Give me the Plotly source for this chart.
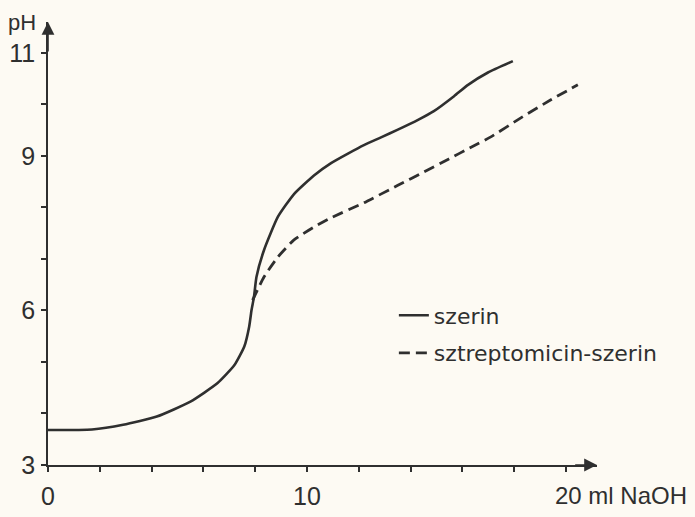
import plotly.graph_objects as go

# Data (ml NaOH, pH)
szerin_ml = [0, 1.7, 2.9, 4.2, 5.5, 6.55, 7.2, 7.58, 7.77, 7.86, 7.95, 8.05, 8.34, 8.88,
             9.5, 10.27, 10.93, 11.6, 12.2, 12.86, 13.51, 14.29, 14.9, 15.68, 16.22, 16.99, 17.95]
szerin_ph = [3.68, 3.69, 3.78, 3.94, 4.23, 4.59, 4.94, 5.30, 5.69, 6.01, 6.25, 6.65, 7.17, 7.82,
             8.26, 8.62, 8.86, 9.05, 9.21, 9.36, 9.51, 9.70, 9.87, 10.16, 10.38, 10.62, 10.84]

sztrep_ml = [7.9, 8.34, 8.88, 9.5, 10.27, 10.93, 12.2, 13.51, 14.52, 15.48, 16.3, 17.1, 18.26, 19.42, 20.46]
sztrep_ph = [6.2, 6.65, 7.04, 7.37, 7.62, 7.80, 8.09, 8.43, 8.69, 8.94, 9.16, 9.37, 9.74, 10.09, 10.38]

x_tickvals = [0, 2, 4, 6, 8, 10, 12, 14, 16, 18, 20]
x_ticktext = ["0", "", "", "", "", "10", "", "", "", "", ""]
y_tickvals = [3, 4, 5, 6, 7, 8, 9, 10, 11]
y_ticktext = ["3", "", "", "6", "", "", "9", "", "11"]

ink = "#2f2f2f"
bg = "#fdfaf3"
tfont = "Liberation Sans, Arial, sans-serif"

fig = go.Figure()
fig.add_trace(go.Scatter(x=szerin_ml, y=szerin_ph, mode="lines", name="szerin",
                         line=dict(color=ink, width=2.6, shape="spline", smoothing=0.5),
                         legendgroup="a"))
fig.add_trace(go.Scatter(x=sztrep_ml, y=sztrep_ph, mode="lines", name="sztreptomicin-szerin",
                         line=dict(color=ink, width=2.8, shape="spline", smoothing=0.5, dash="11px,6px"),
                         legendgroup="b"))

xmax = 21.2
ymax = 11.6

fig.update_layout(
    width=695, height=517,
    margin=dict(l=48, r=98, t=22, b=52),
    paper_bgcolor=bg, plot_bgcolor=bg,
    showlegend=True,
    legend=dict(x=0.63, y=0.385, xanchor="left", yanchor="top",
                bgcolor="rgba(0,0,0,0)", font=dict(family="DejaVu Sans", size=22, color=ink),
                tracegroupgap=6),
    xaxis=dict(range=[0, xmax], showgrid=False, zeroline=False, showline=True, automargin=False,
               linecolor=ink, linewidth=1.6, ticks="outside", ticklen=5, tickwidth=1.5,
               tickcolor=ink, tickvals=x_tickvals, ticktext=x_ticktext,
               ticklabelstandoff=3,
               tickfont=dict(family=tfont, size=25, color=ink)),
    yaxis=dict(range=[3, ymax], showgrid=False, zeroline=False, showline=True, automargin=False,
               linecolor=ink, linewidth=1.6, ticks="outside", ticklen=5, tickwidth=1.5,
               tickcolor=ink, tickvals=y_tickvals, ticktext=y_ticktext,
               ticklabelstandoff=1,
               tickfont=dict(family=tfont, size=25, color=ink)),
)

# axis arrows
fig.add_annotation(x=xmax, y=3, ax=xmax - 0.9, ay=3, xref="x", yref="y", axref="x", ayref="y",
                   text="", showarrow=True, arrowhead=2, arrowsize=1.6, arrowwidth=1.6, arrowcolor=ink)
fig.add_annotation(x=0, y=ymax, ax=0, ay=ymax - 0.6, xref="x", yref="y", axref="x", ayref="y",
                   text="", showarrow=True, arrowhead=2, arrowsize=1.6, arrowwidth=1.6, arrowcolor=ink)

# axis labels
fig.add_annotation(x=20, y=0, xref="x", yref="paper", yshift=-30, text="20 ml NaOH",
                   showarrow=False, xanchor="left", xshift=-13, yanchor="middle",
                   font=dict(family=tfont, size=24, color=ink))
fig.add_annotation(x=0, y=ymax, xref="x", yref="y", text="pH", showarrow=False,
                   xanchor="right", xshift=-10, yanchor="middle", yshift=0,
                   font=dict(family=tfont, size=22, color=ink))

fig.write_html("out.html")
